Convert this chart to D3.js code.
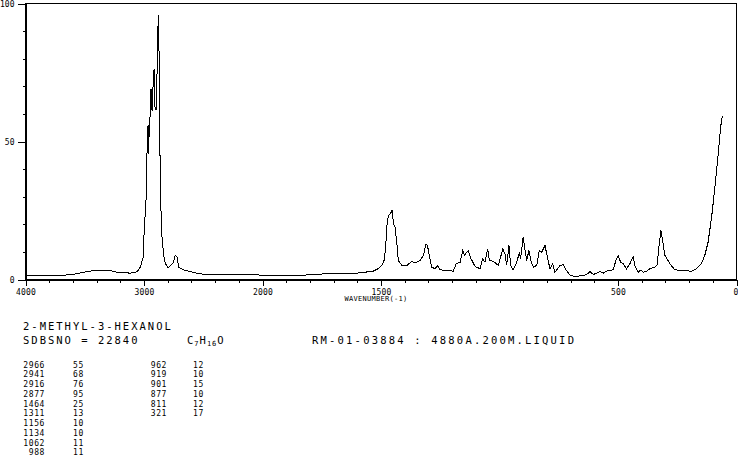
<!DOCTYPE html>
<html><head><meta charset="utf-8">
<script src="https://cdn.jsdelivr.net/npm/d3@7"></script>
<style>
body{margin:0;background:#fff;}
svg{display:block;}
text{font-family:"DejaVu Sans Mono","Liberation Mono",monospace;fill:#000;}
</style>
</head><body>
<svg id="chart" width="738" height="457"></svg>
<script>
// ---- data ----
const wavenumber = [4000,3874,3730,3688,3646,3579,3511,3427,3368,3284,3225,3174,3116,3081,3056,3031,3008,2997,2983,2974,2966,2961,2955,2947,2941,2932,2924,2915,2907,2898,2890,2885,2877,2871,2862,2848,2834,2820,2797,2778,2755,2736,2721,2708,2666,2582,2525,2314,2104,2000,
1925,1841,1728,1672,1602,1533,1512,1497,1487,1480,1476,1469,1459,1452,1448,1441,1433,1427,1412,1391,1370,1356,1335,1321,1310,1304,1296,1286,1272,1262,1251,1223,1195,1183,1166,1155,1148,1138,1132,1120,1103,1082,1071,1061,1050,1043,1026,1005,986,977,970,960,953,942,927,916,911,900,892,885,876,868,857,843,832,822,808,798,787,776,766,745,731,718,701,680,647,632,618,604,576,562,541,520,509,499,489,478,464,450,436,429,415,403,394,379,365,344,335,326,319,312,302,281,260,225,190,169,148,134,120,105,91,77,67,60];
const intensity = [1.3,1.3,1.4,1.3,1.8,2.0,2.6,3.2,3.3,3.2,2.6,2.5,2.3,2.5,2.9,4.5,8,19,28.6,46.8,55.9,45.6,56.6,60,69,61,69.7,76.4,62.5,61.3,74.7,89,96,75,31,15.3,8.7,5.8,4.2,5,5.9,8.7,8.1,4.5,3.5,2.6,2.0,1.8,1.7,1.6,
1.6,1.5,2.1,2.2,2.3,3.0,3.9,5.1,6.9,11.7,19,23,24,25.3,20.2,19,12.9,6.9,5.1,5.1,6.5,6.0,6.9,8.7,12.9,12.3,8.7,4.5,3.9,5.1,3.5,3.3,3.0,5.7,6.3,10.5,8.7,9.9,10.5,7.5,4.7,3.9,7.5,6.3,11.1,6.9,6.6,5.1,11.1,9.3,5.1,12.3,5.1,3.5,6.3,9.9,7.5,15.5,10.5,6.9,10.5,6.9,4.5,5.1,10.5,9.9,12.3,8.1,3.9,5.7,2.6,5.1,5.4,3.3,1.5,1.1,1.5,1.8,2.9,1.8,2.9,2.3,3.3,3.5,6.9,8.7,6.3,5.7,3.9,5.7,8.3,5.1,2.6,3.5,2.6,3.0,3.9,4.5,5.4,12.9,17.8,14.1,8.7,5.7,3.5,3.3,3.0,3.9,5.7,8.7,13.5,22.6,33.5,45.6,55.2,59.1];

const xMajorTicks = [4000,3000,2000,1500,500,0];
const xMinorTicks = [4000,3800,3600,3400,3200,3000,2800,2600,2400,2200,2000,1900,1800,1700,1600,1500,1400,1300,1200,1100,1000,900,800,700,600,500,400,300,200,100,0];
const yMinorTicks = [0,10,20,30,40,50,60,70,80,90,100];
const yMajorTicks = [0,50,100];
const xTitle = "WAVENUMBER(-1)";
const compoundName = "2-METHYL-3-HEXANOL";
const sdbsLine = "SDBSNO = 22840";
const specLine = "RM-01-03884 : 4880A.200M.LIQUID";
const peakWnA = [2966,2941,2916,2877,1464,1311,1156,1134,1062,988];
const peakIntA = [55,68,76,95,25,13,10,10,11,11];
const peakWnB = [962,919,901,877,811,321];
const peakIntB = [12,10,15,10,12,17];

// ---- drawing ----
const svg = d3.select("#chart");
svg.append("rect").attr("width",738).attr("height",457).attr("fill","#fff");

const x = d3.scaleLinear().domain([4000,2000,0]).range([25.5,262.5,736.5]);
const y = d3.scaleLinear().domain([0,100]).range([279.5,3.5]);

const axisStyle = g => {
  g.selectAll("path,line").attr("stroke","#000").attr("stroke-width",1).attr("shape-rendering","crispEdges");
  g.selectAll("text").attr("font-family",'"DejaVu Sans Mono",monospace').attr("fill","#000");
};

// frame (top & right)
svg.append("rect").attr("x",x(4000)).attr("y",y(100))
  .attr("width",x(0)-x(4000)).attr("height",y(0)-y(100))
  .attr("fill","none").attr("stroke","#000").attr("shape-rendering","crispEdges");

// x axis minor
svg.append("g").attr("transform",`translate(0,${y(0)})`)
  .call(d3.axisBottom(x).tickValues(xMinorTicks).tickSize(3).tickSizeOuter(0).tickFormat(""))
  .call(axisStyle);
// x axis major with labels
const gxM = svg.append("g").attr("transform",`translate(0,${y(0)})`)
  .call(d3.axisBottom(x).tickValues(xMajorTicks).tickSize(6).tickSizeOuter(0).tickPadding(3).tickFormat(d3.format("d")))
  .call(axisStyle);
gxM.selectAll("text").attr("font-size",8).attr("letter-spacing",0.2).attr("dy",null).attr("y",15);
gxM.selectAll(".tick").filter(d=>d===0).select("text").attr("text-anchor","end").attr("x",1.5);
gxM.select(".domain").remove();

// y axis minor
svg.append("g").attr("transform",`translate(${x(4000)},0)`)
  .call(d3.axisLeft(y).tickValues(yMinorTicks).tickSize(3).tickSizeOuter(0).tickFormat(""))
  .call(axisStyle);
const gyM = svg.append("g").attr("transform",`translate(${x(4000)},0)`)
  .call(d3.axisLeft(y).tickValues(yMajorTicks).tickSize(8).tickSizeOuter(0).tickPadding(3).tickFormat(d3.format("d")))
  .call(axisStyle);
gyM.selectAll("text").attr("font-size",8).attr("x",-11).attr("dy","0.35em");
gyM.select(".domain").remove();

// x title
svg.append("text").attr("x",376).attr("y",301).attr("text-anchor","middle")
  .attr("font-size",7).attr("letter-spacing",0.3).text(xTitle);

// spectrum
const pts = wavenumber.map((w,i)=>({w, v:intensity[i]}));
svg.append("path").datum(pts)
  .attr("fill","none").attr("stroke","#000").attr("stroke-width",1)
  .attr("shape-rendering","crispEdges")
  .attr("d", d3.line().x(d=>x(d.w)).y(d=>y(d.v)));

// header text
svg.append("text").attr("x",23).attr("y",329.5).attr("font-size",10.5).attr("letter-spacing",2).text(compoundName);
svg.append("text").attr("x",23).attr("y",344).attr("font-size",10.5).attr("letter-spacing",2).text(sdbsLine);
const f = svg.append("text").attr("x",187).attr("y",344).attr("font-size",10.5).attr("letter-spacing",1);
f.append("tspan").text("C");
f.append("tspan").attr("font-size",7).attr("dy",2).text("7");
f.append("tspan").attr("dy",-2).text("H");
f.append("tspan").attr("font-size",7).attr("dy",2).text("16");
f.append("tspan").attr("dy",-2).text("O");
svg.append("text").attr("x",312).attr("y",344).attr("font-size",10.5).attr("letter-spacing",2.2).text(specLine);

// peak table
const rowY = i => 367.5 + i*9.75;
const tbl = svg.append("g").attr("font-size",8).attr("letter-spacing",0.6);
tbl.selectAll(".wa").data(peakWnA).join("text").attr("x",45).attr("y",(d,i)=>rowY(i)).attr("text-anchor","end").text(d=>d);
tbl.selectAll(".ia").data(peakIntA).join("text").attr("x",73).attr("y",(d,i)=>rowY(i)).text(d=>d);
tbl.selectAll(".wb").data(peakWnB).join("text").attr("x",167).attr("y",(d,i)=>rowY(i)).attr("text-anchor","end").text(d=>d);
tbl.selectAll(".ib").data(peakIntB).join("text").attr("x",193).attr("y",(d,i)=>rowY(i)).text(d=>d);
</script>
</body></html>
